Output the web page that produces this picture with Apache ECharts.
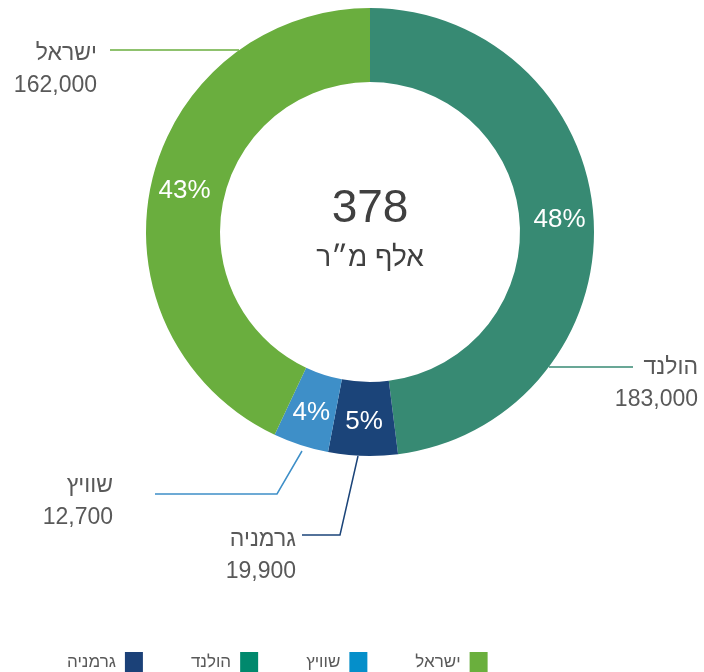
<!DOCTYPE html>
<html>
<head>
<meta charset="utf-8">
<script src="https://cdn.jsdelivr.net/npm/echarts@6/dist/echarts.min.js"></script>
<style>
  html, body { margin: 0; padding: 0; background: #fff; }
  #chart { width: 704px; height: 672px; }
</style>
</head>
<body>
<div id="chart"></div>
<script>
// נתונים
const countries = ['הולנד', 'גרמניה', 'שוויץ', 'ישראל']
const shares = [48, 5, 4, 43]                  // אחוז מהסך
const amounts = [183000, 19900, 12700, 162000] // מ"ר
const sliceColors = ['#378a73', '#1b4479', '#3e8fc8', '#6aae3e']
const legendOrder = ['גרמניה', 'הולנד', 'שוויץ', 'ישראל']
const legendColors = ['#1b4178', '#00896d', '#058fca', '#6aaf3d']

const FONT = "'Liberation Sans', Arial, 'DejaVu Sans', sans-serif"
const GRAY = '#595959'

// מיקום התוויות החיצוניות (כמו בגרף המקורי)
const labelSpots = [
  { x: 698, y: 384, line: [[549, 367], [633, 367]] },
  { x: 296, y: 556, line: [[358, 456], [340, 535], [302, 535]] },
  { x: 113, y: 502, line: [[302, 451], [277, 494], [155, 494]] },
  { x: 97, y: 70, line: [[239, 50], [110, 50]] },
]

const total = amounts.reduce((a, b) => a + b, 0)

const myChart = echarts.init(document.getElementById('chart'))

const ringData = countries.map((name, i) => ({
  name,
  value: shares[i],
  itemStyle: { color: sliceColors[i] },
}))

const outerData = countries.map((name, i) => ({
  name,
  value: shares[i],
  itemStyle: { color: 'rgba(0,0,0,0)' },
  labelLine: { lineStyle: { color: sliceColors[i] } },
}))

const option = {
  animation: false,
  textStyle: { fontFamily: FONT },
  legend: {
    left: 62,
    top: 647,
    align: 'right',
    icon: 'rect',
    itemWidth: 18,
    itemHeight: 21,
    itemGap: 48,
    textStyle: { fontSize: 17, color: GRAY, fontFamily: FONT, padding: [0, 4, 0, 0] },
    data: legendOrder.map((name, i) => ({ name, itemStyle: { color: legendColors[i] } })),
  },
  graphic: [
    {
      type: 'text',
      x: 370,
      y: 209,
      style: {
        text: String(Math.round(total / 1000)),
        font: '46px ' + FONT,
        fill: '#404040',
        textAlign: 'center',
        textVerticalAlign: 'middle',
      },
    },
    {
      type: 'text',
      x: 370,
      y: 258,
      style: {
        text: 'אלף מ״ר',
        font: '28px ' + FONT,
        fill: '#404040',
        textAlign: 'center',
        textVerticalAlign: 'middle',
      },
    },
  ],
  series: [
    {
      type: 'pie',
      center: [370, 232],
      radius: [150, 224],
      startAngle: 90,
      clockwise: true,
      silent: true,
      avoidLabelOverlap: false,
      label: {
        position: 'inside',
        color: '#fff',
        fontSize: 26,
        fontFamily: FONT,
        formatter: (p) => p.value + '%',
      },
      labelLine: { show: false },
      data: ringData,
    },
    {
      type: 'pie',
      center: [370, 232],
      radius: [150, 224],
      startAngle: 90,
      clockwise: true,
      silent: true,
      avoidLabelOverlap: false,
      label: {
        position: 'outside',
        color: GRAY,
        fontFamily: FONT,
        formatter: (p) => '{n|' + p.name + '}\n{v|' + amounts[p.dataIndex].toLocaleString('en-US') + '}',
        rich: {
          n: { fontSize: 23, color: GRAY, lineHeight: 32, align: 'right', fontFamily: FONT },
          v: { fontSize: 23, color: GRAY, lineHeight: 32, align: 'right', fontFamily: FONT },
        },
      },
      labelLine: { show: true, smooth: false, lineStyle: { width: 1.5 } },
      labelLayout: (params) => {
        const s = labelSpots[params.dataIndex]
        return {
          x: s.x,
          y: s.y,
          align: 'right',
          verticalAlign: 'middle',
          labelLinePoints: s.line,
        }
      },
      data: outerData,
    },
  ],
}

myChart.setOption(option)
</script>
</body>
</html>
